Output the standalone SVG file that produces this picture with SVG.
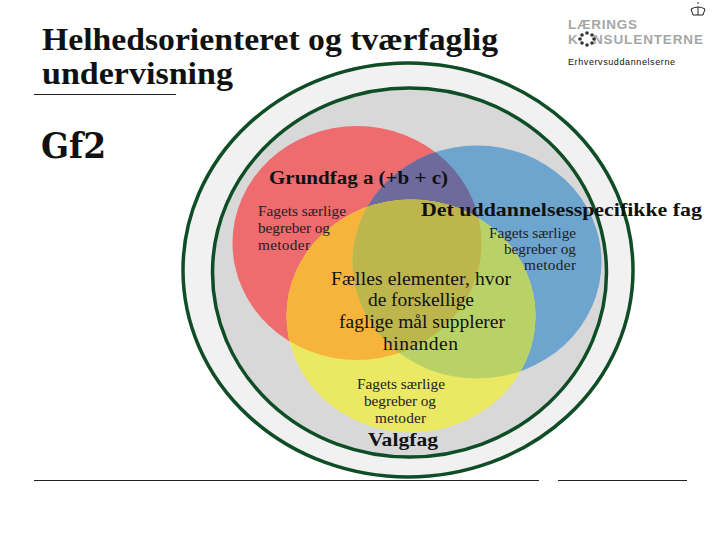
<svg xmlns="http://www.w3.org/2000/svg" width="720" height="540" viewBox="0 0 720 540">
<style>
text{font-family:"Liberation Serif","Times New Roman",serif;fill:#111}
.t{font-weight:bold;font-size:31.500px}
.b{font-weight:bold;font-size:19.500px}
.m{font-size:19.500px}
.s{font-size:15.300px;fill:#222}
.c{text-anchor:middle}
.e{text-anchor:end}
.ring{stroke:#0f4d26;stroke-width:3.5}
.logo{font-family:"Liberation Sans",Arial,sans-serif;font-weight:bold;font-size:13.5px;fill:#a6a6a6}
</style>
<defs>
<clipPath id="cr"><ellipse cx="357" cy="243" rx="124.500" ry="117"/></clipPath>
<clipPath id="cb"><ellipse cx="477" cy="262" rx="124.500" ry="116.500"/></clipPath>
<clipPath id="cy"><ellipse cx="411" cy="316" rx="124.500" ry="116.500"/></clipPath>
</defs>
<rect width="720" height="540" fill="#fff"/>
<g id="title">
<text class="t" x="42" y="50" textLength="456" lengthAdjust="spacingAndGlyphs">Helhedsorienteret og tværfaglig</text>
<text class="t" x="42" y="84" textLength="191" lengthAdjust="spacingAndGlyphs">undervisning</text>
<text x="41" y="158" font-size="36" font-weight="bold" textLength="65" lengthAdjust="spacingAndGlyphs" style="font-family:'DejaVu Serif',serif">Gf2</text>
</g>
<g id="rules" stroke="#222" stroke-width="1">
<line x1="34" y1="94.500" x2="176" y2="94.500"/>
<line x1="34" y1="480.500" x2="539" y2="480.500"/>
<line x1="558" y1="480.500" x2="687" y2="480.500"/>
</g>
<g id="logo">
<text class="logo" x="568" y="29" textLength="69">LÆRINGS</text>
<text class="logo" x="568" y="44">K</text>
<text class="logo" x="593" y="44" textLength="110">NSULENTERNE</text>
<g fill="#333"><circle cx="587" cy="33" r="1.800"/><circle cx="592" cy="35" r="1.800"/><circle cx="594" cy="39" r="1.800"/><circle cx="592" cy="43" r="1.800"/><circle cx="587" cy="45" r="1.800"/><circle cx="582" cy="43" r="1.800"/><circle cx="580" cy="39" r="1.800"/><circle cx="582" cy="35" r="1.800"/></g>
<text x="568" y="65" textLength="107" style="font-family:'Liberation Sans',sans-serif" font-size="9" fill="#333">Erhvervsuddannelserne</text>
<g fill="none" stroke="#222" stroke-width="1"><path d="M691 9q7 -4 14 0l-2 6h-10z"/><path d="M698 7v8M698 2v2"/></g>
</g>
<g id="outer"><ellipse class="ring" cx="408" cy="270" rx="225" ry="207" fill="#f1f1f1"/></g>
<g id="inner"><ellipse class="ring" cx="409.500" cy="272.500" rx="197" ry="184.500" fill="#d8d8d8"/></g>
<g id="red"><ellipse cx="357" cy="243" rx="124.500" ry="117" fill="#ee6b6e"/></g>
<g id="blue"><ellipse cx="477" cy="262" rx="124.500" ry="116.500" fill="#6ea5cf"/></g>
<g id="yellow"><ellipse cx="411" cy="316" rx="124.500" ry="116.500" fill="#ebe964"/></g>
<g id="overlaps">
<g clip-path="url(#cr)"><ellipse cx="477" cy="262" rx="124.500" ry="116.500" fill="#6f6a9c"/><ellipse cx="411" cy="316" rx="124.500" ry="116.500" fill="#f6b53a"/></g>
<g clip-path="url(#cb)"><ellipse cx="411" cy="316" rx="124.500" ry="116.500" fill="#b9d267"/></g>
<g clip-path="url(#cb)"><g clip-path="url(#cy)"><ellipse cx="357" cy="243" rx="124.500" ry="117" fill="#bdb64c"/></g></g>
</g>
<g id="labels">
<text class="b" x="269" y="184" textLength="179" lengthAdjust="spacingAndGlyphs">Grundfag a (+b + c)</text>
<text class="b" x="421" y="216" textLength="281" lengthAdjust="spacingAndGlyphs">Det uddannelsesspecifikke fag</text>
<text class="s" x="258" y="216" textLength="88">Fagets særlige</text>
<text class="s" x="258" y="233" textLength="72">begreber og</text>
<text class="s" x="258" y="250" textLength="52">metoder</text>
<text class="s" x="489" y="238" textLength="87">Fagets særlige</text>
<text class="s" x="504" y="254" textLength="72">begreber og</text>
<text class="s" x="524" y="270" textLength="52">metoder</text>
<text class="m" x="331" y="285" textLength="180">Fælles elementer, hvor</text>
<text class="m" x="368" y="306" textLength="106">de forskellige</text>
<text class="m" x="339" y="328" textLength="166">faglige mål supplerer</text>
<text class="m" x="383" y="350" textLength="75">hinanden</text>
<text class="s" x="357" y="389" textLength="88">Fagets særlige</text>
<text class="s" x="364" y="406" textLength="72">begreber og</text>
<text class="s" x="375" y="423" textLength="51">metoder</text>
<text class="b" x="368" y="446" textLength="70" lengthAdjust="spacingAndGlyphs">Valgfag</text>
</g>
</svg>
